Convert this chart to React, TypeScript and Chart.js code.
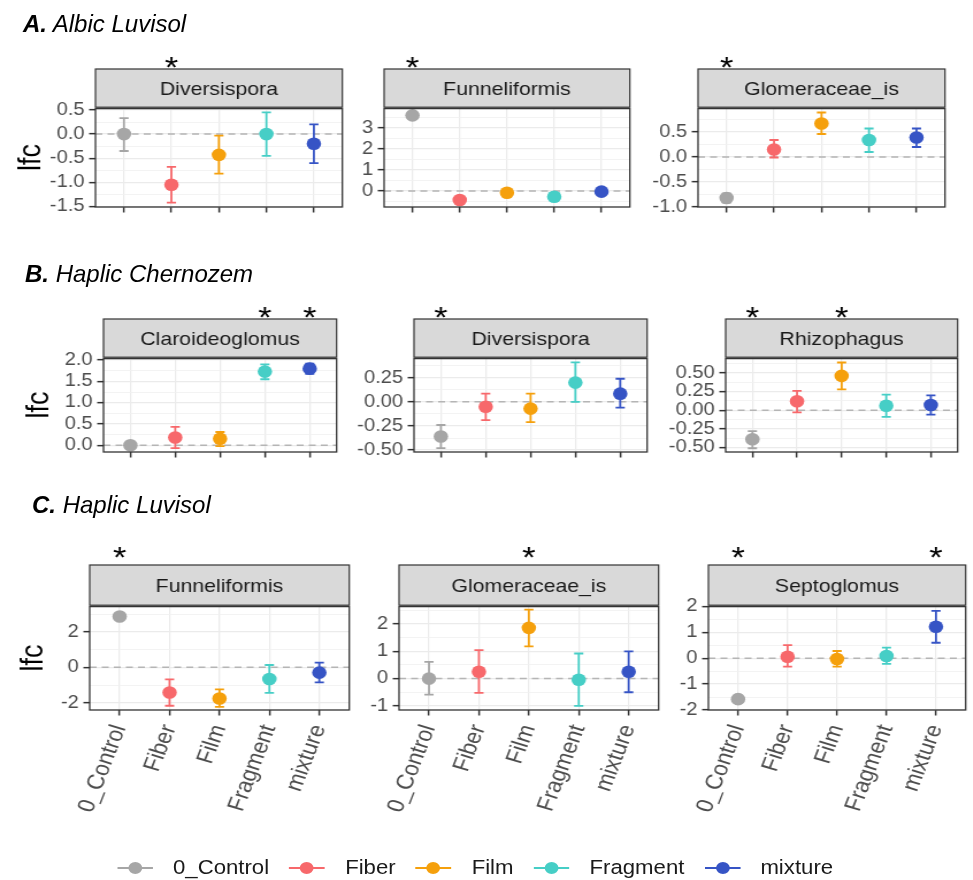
import React, { useEffect, useRef } from 'react';
import { Chart, registerables } from 'chart.js';

Chart.register(...registerables);

const FONT = '"Liberation Sans", Arial, Helvetica, sans-serif';
const SX = 1.15; // horizontal stretch of the facet figure
const PAGE_W = 973;
const PAGE_H = 880;

// ---------------- data ----------------
const treatments = ['0_Control', 'Fiber', 'Film', 'Fragment', 'mixture'];
const treatmentColors = ['#A6A6A6', '#F7686B', '#F5A00C', '#46CEC6', '#3654C5'];

// A. Albic Luvisol
const aDiversisporaLfc = [0.0, -1.05, -0.43, 0.0, -0.2];
const aDiversisporaLow = [-0.35, -1.42, -0.82, -0.45, -0.6];
const aDiversisporaHigh = [0.33, -0.68, -0.03, 0.45, 0.2];
const aDiversisporaTicks = [-1.5, -1.0, -0.5, 0.0, 0.5];
const aDiversisporaStars = ['Fiber'];

const aFunneliformisLfc = [3.6, -0.43, -0.08, -0.27, -0.03];
const aFunneliformisLow = [3.46, -0.55, -0.18, -0.39, -0.13];
const aFunneliformisHigh = [3.74, -0.31, 0.02, -0.15, 0.07];
const aFunneliformisTicks = [0, 1, 2, 3];
const aFunneliformisStars = ['0_Control'];

const aGlomeraceaeLfc = [-0.82, 0.15, 0.67, 0.34, 0.39];
const aGlomeraceaeLow = [-0.91, -0.01, 0.46, 0.1, 0.2];
const aGlomeraceaeHigh = [-0.73, 0.34, 0.89, 0.57, 0.57];
const aGlomeraceaeTicks = [-1.0, -0.5, 0.0, 0.5];
const aGlomeraceaeStars = ['0_Control'];

// B. Haplic Chernozem
const bClaroideoglomusLfc = [0.0, 0.18, 0.15, 1.73, 1.8];
const bClaroideoglomusLow = [-0.04, -0.07, -0.02, 1.55, 1.68];
const bClaroideoglomusHigh = [0.04, 0.43, 0.31, 1.9, 1.92];
const bClaroideoglomusTicks = [0.0, 0.5, 1.0, 1.5, 2.0];
const bClaroideoglomusStars = ['Fragment', 'mixture'];

const bDiversisporaLfc = [-0.36, -0.05, -0.07, 0.2, 0.085];
const bDiversisporaLow = [-0.48, -0.19, -0.21, 0.0, -0.06];
const bDiversisporaHigh = [-0.24, 0.085, 0.085, 0.41, 0.24];
const bDiversisporaTicks = [-0.5, -0.25, 0.0, 0.25];
const bDiversisporaStars = ['0_Control'];

const bRhizophagusLfc = [-0.39, 0.12, 0.46, 0.06, 0.07];
const bRhizophagusLow = [-0.51, -0.03, 0.28, -0.09, -0.06];
const bRhizophagusHigh = [-0.28, 0.26, 0.64, 0.21, 0.2];
const bRhizophagusTicks = [-0.5, -0.25, 0.0, 0.25, 0.5];
const bRhizophagusStars = ['0_Control', 'Film'];

// C. Haplic Luvisol
const cFunneliformisLfc = [2.87, -1.42, -1.76, -0.66, -0.3];
const cFunneliformisLow = [2.7, -2.17, -2.23, -1.44, -0.85];
const cFunneliformisHigh = [3.04, -0.68, -1.25, 0.13, 0.26];
const cFunneliformisTicks = [-2, 0, 2];
const cFunneliformisStars = ['0_Control'];

const cGlomeraceaeLfc = [0.0, 0.25, 1.86, -0.04, 0.25];
const cGlomeraceaeLow = [-0.59, -0.52, 1.18, -1.0, -0.5];
const cGlomeraceaeHigh = [0.61, 1.04, 2.53, 0.92, 1.0];
const cGlomeraceaeTicks = [-1, 0, 1, 2];
const cGlomeraceaeStars = ['Film'];

const cSeptoglomusLfc = [-1.58, 0.06, -0.03, 0.09, 1.22];
const cSeptoglomusLow = [-1.72, -0.32, -0.32, -0.22, 0.6];
const cSeptoglomusHigh = [-1.44, 0.51, 0.28, 0.41, 1.83];
const cSeptoglomusTicks = [-2, -1, 0, 1, 2];
const cSeptoglomusStars = ['0_Control', 'mixture'];

// ---------------- layout ----------------
const rows = [
  { letter: 'A.', title: 'Albic Luvisol', titleX: 23, titleBase: 32, starY: 60, stripTop: 69, plotTop: 108, plotBottom: 207, ylabX: 31 },
  { letter: 'B.', title: 'Haplic Chernozem', titleX: 25, titleBase: 282, starY: 310, stripTop: 319, plotTop: 358, plotBottom: 452, ylabX: 35 },
  { letter: 'C.', title: 'Haplic Luvisol', titleX: 32, titleBase: 513, starY: 550, stripTop: 565, plotTop: 606, plotBottom: 710, ylabX: 34 },
];

const panels = [
  { row: 0, col: 0, name: 'Diversispora', lfc: aDiversisporaLfc, low: aDiversisporaLow, high: aDiversisporaHigh, ticks: aDiversisporaTicks, stars: aDiversisporaStars, yMin: -1.51, yMax: 0.54, dec: 1, left: 95, right: 346 },
  { row: 0, col: 1, name: 'Funneliformis', lfc: aFunneliformisLfc, low: aFunneliformisLow, high: aFunneliformisHigh, ticks: aFunneliformisTicks, stars: aFunneliformisStars, yMin: -0.76, yMax: 3.95, dec: 0, left: 384, right: 634 },
  { row: 0, col: 2, name: 'Glomeraceae_is', lfc: aGlomeraceaeLfc, low: aGlomeraceaeLow, high: aGlomeraceaeHigh, ticks: aGlomeraceaeTicks, stars: aGlomeraceaeStars, yMin: -1.0, yMax: 0.98, dec: 1, left: 698, right: 949 },
  { row: 1, col: 0, name: 'Claroideoglomus', lfc: bClaroideoglomusLfc, low: bClaroideoglomusLow, high: bClaroideoglomusHigh, ticks: bClaroideoglomusTicks, stars: bClaroideoglomusStars, yMin: -0.16, yMax: 2.05, dec: 1, left: 104, right: 340 },
  { row: 1, col: 1, name: 'Diversispora', lfc: bDiversisporaLfc, low: bDiversisporaLow, high: bDiversisporaHigh, ticks: bDiversisporaTicks, stars: bDiversisporaStars, yMin: -0.52, yMax: 0.455, dec: 2, left: 414, right: 651 },
  { row: 1, col: 2, name: 'Rhizophagus', lfc: bRhizophagusLfc, low: bRhizophagusLow, high: bRhizophagusHigh, ticks: bRhizophagusTicks, stars: bRhizophagusStars, yMin: -0.56, yMax: 0.7, dec: 2, left: 726, right: 961 },
  { row: 2, col: 0, name: 'Funneliformis', lfc: cFunneliformisLfc, low: cFunneliformisLow, high: cFunneliformisHigh, ticks: cFunneliformisTicks, stars: cFunneliformisStars, yMin: -2.41, yMax: 3.46, dec: 0, left: 90, right: 353 },
  { row: 2, col: 1, name: 'Glomeraceae_is', lfc: cGlomeraceaeLfc, low: cGlomeraceaeLow, high: cGlomeraceaeHigh, ticks: cGlomeraceaeTicks, stars: cGlomeraceaeStars, yMin: -1.15, yMax: 2.66, dec: 0, left: 399, right: 662 },
  { row: 2, col: 2, name: 'Septoglomus', lfc: cSeptoglomusLfc, low: cSeptoglomusLow, high: cSeptoglomusHigh, ticks: cSeptoglomusTicks, stars: cSeptoglomusStars, yMin: -2.0, yMax: 2.02, dec: 0, left: 708, right: 970 },
];

const YW = 72; // logical width reserved for y axis
const PR = 3; // right padding
const STAR_SPACE = 28;
const XH_TOP = 12;
const XH_BOTTOM = 130;
const CAP = 4;
const TITLE_SIZE = 27;
const XLABEL_ROT = 71;

function minorTicks(majors, min, max) {
  const step = majors.length > 1 ? majors[1] - majors[0] : 1;
  const ext = [majors[0] - step, ...majors, majors[majors.length - 1] + step];
  const out = [];
  for (let i = 0; i < ext.length - 1; i++) {
    const m = (ext[i] + ext[i + 1]) / 2;
    if (m >= min && m <= max) out.push(m);
  }
  return out;
}

function Panel({ p }) {
  const ref = useRef(null);
  const r = rows[p.row];
  const isBottom = p.row === 2;
  const isLeft = p.col === 0;
  const plotL = Math.round(p.left / SX);
  const plotR = Math.round(p.right / SX);
  const canvasLeft = plotL - YW;
  const canvasTop = r.starY - STAR_SPACE;
  const padTop = r.plotTop - canvasTop;
  const XH = isBottom ? XH_BOTTOM : XH_TOP;
  const w = plotR - plotL + YW + PR;
  const h = padTop + (r.plotBottom - r.plotTop) + XH;

  useEffect(() => {
    const majors = p.ticks.filter((v) => v >= p.yMin - 1e-9 && v <= p.yMax + 1e-9);
    const minors = minorTicks(p.ticks, p.yMin, p.yMax);
    const allTicks = [...majors, ...minors].sort((a, b) => a - b);
    const isMajor = (v) => majors.some((m) => Math.abs(m - v) < 1e-9);
    const titleLine = TITLE_SIZE * 1.2;
    const titlePad = Math.max(0, r.ylabX / SX - canvasLeft - titleLine / 2);

    const facetPlugin = {
      id: 'facet',
      beforeDatasetsDraw(chart) {
        const { ctx, chartArea: a, scales } = chart;
        const xs = scales.x;
        const ys = scales.y;
        ctx.save();
        // dashed zero line
        const y0 = ys.getPixelForValue(0);
        ctx.strokeStyle = '#B5B5B5';
        ctx.lineWidth = 1.5;
        ctx.setLineDash([6, 4.5]);
        ctx.beginPath();
        ctx.moveTo(a.left, y0);
        ctx.lineTo(a.right, y0);
        ctx.stroke();
        ctx.setLineDash([]);
        // error bars
        treatments.forEach((t, i) => {
          const px = xs.getPixelForValue(i);
          const lo = ys.getPixelForValue(p.low[i]);
          const hi = ys.getPixelForValue(p.high[i]);
          ctx.strokeStyle = treatmentColors[i];
          ctx.lineWidth = 1.8;
          ctx.beginPath();
          ctx.moveTo(px, lo);
          ctx.lineTo(px, hi);
          ctx.moveTo(px - CAP, lo);
          ctx.lineTo(px + CAP, lo);
          ctx.moveTo(px - CAP, hi);
          ctx.lineTo(px + CAP, hi);
          ctx.stroke();
        });
        ctx.restore();
      },
      afterDraw(chart) {
        const { ctx, chartArea: a, scales } = chart;
        const xs = scales.x;
        ctx.save();
        // panel border
        ctx.strokeStyle = '#333333';
        ctx.lineWidth = 1.3;
        ctx.strokeRect(a.left, a.top + 0.6, a.right - a.left, a.bottom - a.top - 0.6);
        // strip
        const sTop = r.stripTop - canvasTop;
        ctx.fillStyle = '#D9D9D9';
        ctx.fillRect(a.left, sTop, a.right - a.left, a.top - sTop);
        ctx.strokeStyle = '#333333';
        ctx.lineWidth = 1.2;
        ctx.strokeRect(a.left, sTop, a.right - a.left, a.top - sTop - 0.8);
        ctx.fillStyle = '#1A1A1A';
        ctx.font = `18.5px ${FONT}`;
        ctx.textAlign = 'center';
        ctx.textBaseline = 'middle';
        ctx.fillText(p.name, (a.left + a.right) / 2, (sTop + a.top) / 2 + 1);
        // significance stars
        ctx.fillStyle = '#000000';
        ctx.font = `30px ${FONT}`;
        ctx.textBaseline = 'alphabetic';
        const sy = r.starY - canvasTop;
        p.stars.forEach((s) => {
          const idx = treatments.indexOf(s);
          ctx.fillText('*', xs.getPixelForValue(idx), sy + 0.57 * 30);
        });
        ctx.restore();
      },
    };

    const chart = new Chart(ref.current, {
      type: 'scatter',
      data: {
        datasets: treatments.map((t, i) => ({
          label: t,
          data: [{ x: i, y: p.lfc[i] }],
          backgroundColor: treatmentColors[i],
          borderColor: treatmentColors[i],
          pointRadius: 6.3,
          pointHoverRadius: 6.3,
          pointBorderWidth: 0,
          showLine: false,
        })),
      },
      options: {
        responsive: false,
        animation: false,
        events: [],
        layout: { padding: { top: padTop, right: PR, left: 0, bottom: 0 } },
        plugins: { legend: { display: false }, tooltip: { enabled: false }, title: { display: false } },
        scales: {
          x: {
            type: 'linear',
            min: -0.6,
            max: 4.6,
            afterBuildTicks: (s) => {
              s.ticks = treatments.map((_, i) => ({ value: i }));
            },
            afterFit: (s) => {
              s.height = XH;
              s.paddingLeft = 0;
              s.paddingRight = 0;
            },
            ticks: {
              autoSkip: false,
              maxRotation: isBottom ? XLABEL_ROT : 0,
              minRotation: isBottom ? XLABEL_ROT : 0,
              padding: 6,
              color: '#4D4D4D',
              font: { family: FONT, size: 21 },
              callback: (v) => (isBottom ? treatments[Math.round(v)] : ''),
            },
            grid: {
              color: '#EBEBEB',
              lineWidth: 1.25,
              drawTicks: true,
              tickLength: 5.5,
              tickColor: '#333333',
              tickWidth: 1.5,
            },
            border: { display: false },
          },
          y: {
            type: 'linear',
            min: p.yMin,
            max: p.yMax,
            afterBuildTicks: (s) => {
              s.ticks = allTicks.map((v) => ({ value: v }));
            },
            afterFit: (s) => {
              s.width = YW;
              s.paddingTop = 0;
              s.paddingBottom = 0;
            },
            ticks: {
              autoSkip: false,
              padding: 4,
              color: '#4D4D4D',
              font: { family: FONT, size: 17.5 },
              callback: (v) => (isMajor(v) ? Number(v).toFixed(p.dec) : ''),
            },
            grid: {
              color: (c) => (c.tick && isMajor(c.tick.value) ? '#EBEBEB' : '#F0F0F0'),
              lineWidth: (c) => (c.tick && isMajor(c.tick.value) ? 1.3 : 0.8),
              drawTicks: true,
              tickLength: 5.5,
              tickColor: (c) => (c.tick && isMajor(c.tick.value) ? '#333333' : 'rgba(0,0,0,0)'),
              tickWidth: 1.5,
            },
            border: { display: false },
            title: {
              display: isLeft,
              text: 'lfc',
              color: '#000000',
              font: { family: FONT, size: TITLE_SIZE },
              padding: { top: titlePad, bottom: 0 },
            },
          },
        },
      },
      plugins: [facetPlugin],
    });
    return () => chart.destroy();
  }, []);

  return (
    <canvas
      ref={ref}
      width={w}
      height={h}
      style={{ position: 'absolute', left: canvasLeft, top: canvasTop, width: w, height: h }}
    />
  );
}

function Legend() {
  const mw = 36 / SX;
  return (
    <div
      style={{
        position: 'absolute',
        left: 117 / SX,
        top: 855,
        height: 26,
        display: 'flex',
        alignItems: 'center',
        whiteSpace: 'nowrap',
        fontFamily: FONT,
        fontSize: 19.3,
        color: '#1A1A1A',
      }}
    >
      {treatments.map((t, i) => (
        <div key={t} style={{ display: 'flex', alignItems: 'center', marginRight: i < treatments.length - 1 ? 20 / SX : 0 }}>
          <svg width={mw} height={14} style={{ display: 'block' }}>
            <line x1={0} y1={7} x2={mw} y2={7} stroke={treatmentColors[i]} strokeWidth={1.9} />
            <circle cx={mw / 2} cy={7} r={6} fill={treatmentColors[i]} />
          </svg>
          <span style={{ marginLeft: 20 / SX, lineHeight: '26px' }}>{t}</span>
        </div>
      ))}
    </div>
  );
}

export default function App() {
  return (
    <div style={{ position: 'absolute', left: 0, top: 0, width: PAGE_W, height: PAGE_H, background: '#ffffff', overflow: 'hidden' }}>
      <div
        style={{
          position: 'absolute',
          left: 0,
          top: 0,
          width: PAGE_W / SX,
          height: PAGE_H,
          transform: `scaleX(${SX})`,
          transformOrigin: '0 0',
        }}
      >
        {panels.map((p, i) => (
          <Panel key={i} p={p} />
        ))}
        <Legend />
      </div>
      {rows.map((r) => (
        <div
          key={r.letter}
          style={{
            position: 'absolute',
            left: r.titleX,
            top: r.titleBase - 20.3,
            fontFamily: FONT,
            fontStyle: 'italic',
            fontSize: 24,
            lineHeight: '24px',
            whiteSpace: 'nowrap',
            color: '#000000',
          }}
        >
          <b>{r.letter}</b> {r.title}
        </div>
      ))}
    </div>
  );
}
